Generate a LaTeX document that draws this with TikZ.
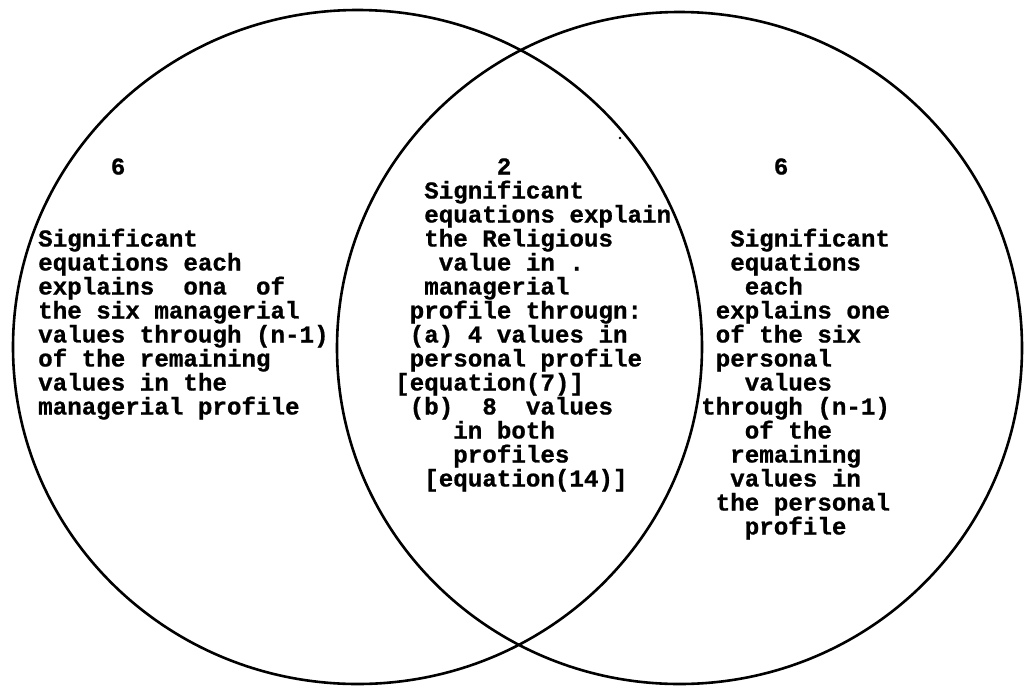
\documentclass[tikz,border=0pt]{standalone}
\usepackage{fontspec}
\newfontfamily\typefont[BoldFeatures={FakeBold=0.8}]{Liberation Mono}
\begin{document}
\begin{tikzpicture}[x=1pt,y=-1pt,
  ring/.style={line width=2.6pt},
  txt/.style={anchor=base west,inner sep=0pt,
    font=\typefont\bfseries\fontsize{24.2}{24}\selectfont}]
\useasboundingbox (0,0) rectangle (1030,686);
% cell width of the monospaced type (0.6em)
\def\cw{14.52}
% the two overlapping profiles
\draw[ring] (357.5,347) ellipse [x radius=344.5, y radius=337];
\draw[ring] (679.5,348) ellipse [x radius=342.5, y radius=336];
% counts
\node[txt] (nL) at ({38+5*\cw},174.5) {6};
\node[txt] (nC) at ({395+7*\cw},174.5) {2};
\node[txt] (nR) at ({701+5*\cw},174.5) {6};
% managerial profile
\foreach \c/\t [count=\i from 0] in {
  0/Significant,
  0/equations each,
  0/explains~~ona~~of,
  0/the six managerial,
  0/values through (n-1),
  0/of the remaining,
  0/values in the,
  0/managerial profile}
  \node[txt] (L\i) at ({38+\c*\cw},{246.5+24*\i}) {\t};
% overlap of both profiles
\foreach \c/\t [count=\i from 0] in {
  2/Significant,
  2/equations explain,
  2/the Religious,
  3/value in .,
  2/managerial,
  1/profile througn:,
  1/(a) 4 values in,
  1/personal profile,
  0/{[equation(7)]},
  1/(b)~~8~~values,
  4/in both,
  4/profiles,
  2/{[equation(14)]}}
  \node[txt] (C\i) at ({395+\c*\cw},{198.5+24*\i}) {\t};
% personal profile
\foreach \c/\t [count=\i from 0] in {
  2/Significant,
  2/equations,
  3/each,
  1/explains one,
  1/of the six,
  1/personal,
  3/values,
  0/through (n-1),
  3/of the,
  2/remaining,
  2/values in,
  1/the personal,
  3/profile}
  \node[txt] (R\i) at ({701+\c*\cw},{246.5+24*\i}) {\t};
% small speck
\fill (620,138) circle (1.3);
\end{tikzpicture}
\end{document}
